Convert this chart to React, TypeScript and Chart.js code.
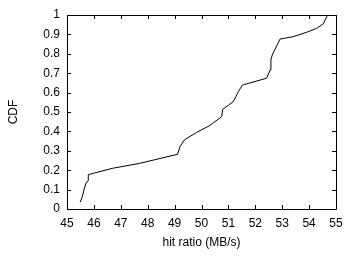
import React, { useEffect, useRef } from "react";
import { Chart, registerables } from "chart.js";

Chart.register(...registerables);

const hitRatio = [
  45.49, 45.56, 45.63, 45.71, 45.79, 45.79, 45.98, 46.7, 47.69, 49.11, 49.2,
  49.36, 49.82, 50.28, 50.4, 50.75, 50.79, 51.0, 51.18, 51.37, 51.52, 52.42,
  52.55, 52.58, 52.63, 52.92, 53.4, 53.91, 54.28, 54.53, 54.65, 54.68,
];
const cdf = [
  0.035, 0.06, 0.098, 0.136, 0.145, 0.177, 0.184, 0.21, 0.235, 0.282, 0.321,
  0.356, 0.395, 0.428, 0.44, 0.476, 0.514, 0.535, 0.553, 0.605, 0.639, 0.674,
  0.716, 0.768, 0.794, 0.876, 0.888, 0.911, 0.931, 0.955, 0.99, 1.0,
];
const xTicks = [45, 46, 47, 48, 49, 50, 51, 52, 53, 54, 55];
const yTickLabels = ["0", "0.1", "0.2", "0.3", "0.4", "0.5", "0.6", "0.7", "0.8", "0.9", "1"];
const xTitle = "hit ratio (MB/s)";
const yTitle = "CDF";

const FONT = { family: "'Liberation Sans', Arial, sans-serif", size: 12 };

const framePlugin = {
  id: "gnuplotFrame",
  afterDatasetsDraw(chart: any) {
    const { ctx, chartArea } = chart;
    const { left, right, top, bottom } = chartArea;
    const xs = chart.scales.x;
    const ys = chart.scales.y;
    const tl = 4;
    ctx.save();
    ctx.strokeStyle = "#000";
    ctx.lineWidth = 1;
    ctx.beginPath();
    ctx.rect(Math.round(left) + 0.5, Math.round(top) + 0.5, Math.round(right - left), Math.round(bottom - top));
    xs.ticks.forEach((t: any) => {
      const px = Math.round(xs.getPixelForValue(t.value)) + 0.5;
      ctx.moveTo(px, bottom);
      ctx.lineTo(px, bottom - tl);
      ctx.moveTo(px, top);
      ctx.lineTo(px, top + tl);
    });
    ys.ticks.forEach((t: any) => {
      const py = Math.round(ys.getPixelForValue(t.value)) + 0.5;
      ctx.moveTo(left, py);
      ctx.lineTo(left + tl, py);
      ctx.moveTo(right, py);
      ctx.lineTo(right - tl, py);
    });
    ctx.stroke();
    ctx.restore();
  },
};

export default function App() {
  const ref = useRef<HTMLCanvasElement | null>(null);
  useEffect(() => {
    if (!ref.current) return;
    const points = hitRatio.map((x, i) => ({ x, y: cdf[i] }));
    const chart = new Chart(ref.current, {
      type: "line",
      data: {
        datasets: [
          {
            data: points,
            borderColor: "#000",
            borderWidth: 1,
            pointRadius: 0,
            tension: 0,
            fill: false,
          },
        ],
      },
      options: {
        responsive: false,
        animation: false,
        devicePixelRatio: 1,
        layout: { padding: { top: 15, right: 19, left: 0, bottom: 0 } },
        plugins: { legend: { display: false }, tooltip: { enabled: false } },
        scales: {
          x: {
            type: "linear",
            min: 45,
            max: 55,
            afterBuildTicks: (s: any) => {
              s.ticks = xTicks.map((v) => ({ value: v }));
            },
            afterFit: (s: any) => {
              s.height = 50;
            },
            ticks: { color: "#000", font: FONT, padding: 7, maxRotation: 0, autoSkip: false },
            grid: { display: false, drawTicks: false },
            border: { display: false },
            title: { display: true, text: xTitle, color: "#000", font: FONT, padding: 9 },
          },
          y: {
            type: "linear",
            min: 0,
            max: 1,
            afterBuildTicks: (s: any) => {
              s.ticks = yTickLabels.map((_, i) => ({ value: i / 10 }));
            },
            afterFit: (s: any) => {
              s.width = 67;
            },
            ticks: {
              color: "#000",
              font: FONT,
              padding: 7,
              autoSkip: false,
              callback: (_v: any, i: number) => yTickLabels[i],
            },
            grid: { display: false, drawTicks: false },
            border: { display: false },
            title: { display: true, text: yTitle, color: "#000", font: FONT, padding: 6 },
          },
        },
      },
      plugins: [framePlugin],
    } as any);
    return () => chart.destroy();
  }, []);
  return (
    <div style={{ position: "fixed", left: 0, top: 0, width: 355, height: 259, background: "#fff" }}>
      <canvas ref={ref} width={355} height={259} style={{ display: "block" }} />
    </div>
  );
}
